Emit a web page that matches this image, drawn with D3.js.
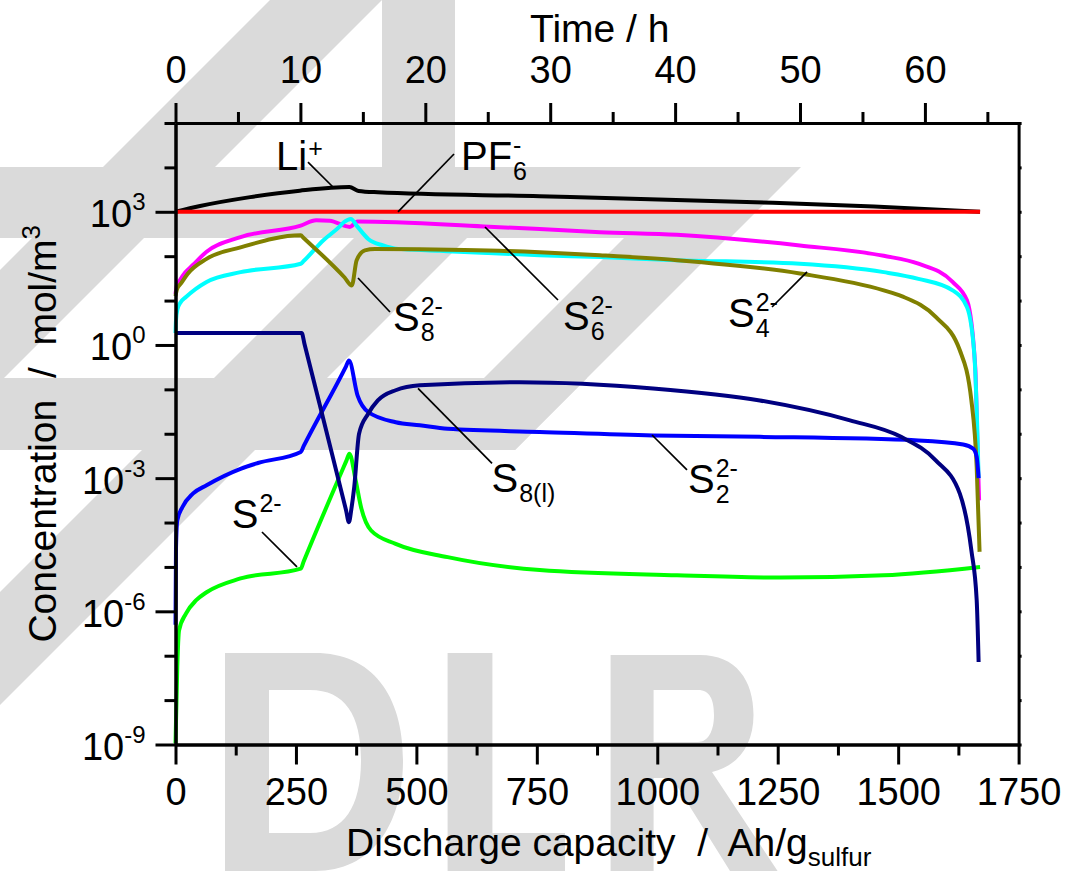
<!DOCTYPE html>
<html><head><meta charset="utf-8">
<script src="https://cdn.jsdelivr.net/npm/d3@7/dist/d3.min.js"></script>
<style>
body{margin:0;background:#fff}
svg{display:block}
text{font-family:"Liberation Sans",Arial,Helvetica,sans-serif;fill:#000;white-space:pre}
</style>
</head><body>
<svg id="chart" width="1080" height="871"></svg>
<script>
// ---------- data (discharge capacity in Ah/g_sulfur, concentration in mol/m^3) ----------
const capTicks = [0, 250, 500, 750, 1000, 1250, 1500, 1750];
const timeTicks = [0, 10, 20, 30, 40, 50, 60];
const concExponents = [-9, -6, -3, 0, 3];

const liCap  = [0, 51, 155, 258, 361, 380, 420, 756, 1185, 1450, 1670];
const liVal  = [1000, 1349, 2138, 2985, 3597, 2951, 2754, 2239, 1660, 1318, 1000];

const pfCap  = [0, 1670];
const pfVal  = [1000, 1000];

const s6Cap  = [0, 3, 7.4, 20, 36, 64.5, 135, 260, 292, 320, 362, 378, 640, 756, 881, 1041, 1296, 1470, 1542, 1613, 1643, 1660, 1665, 1668];
const s6Val  = [14.1, 22.4, 26.9, 42.7, 63.1, 126, 269, 490, 646, 631, 457, 603, 468, 407, 347, 302, 174, 102, 67.6, 26.3, 10, 0.316, 0.00363, 0.000316];

const s8Cap  = [0, 1, 4, 10, 21.7, 64.5, 135, 260, 266, 307, 340, 350, 364, 378, 400, 431, 457, 549, 756, 881, 1041, 1296, 1470, 1542, 1613, 1643, 1658, 1664, 1667];
const s8Val  = [1.86, 3.55, 6.31, 8.91, 12.0, 26.3, 43.7, 67.6, 77.6, 229, 457, 589, 692, 457, 245, 174, 148, 132, 105, 95.5, 81.3, 67.6, 43.7, 30.9, 17.0, 7.08, 0.631, 0.0158, 0.001];

const s4Cap  = [0, 3, 11, 25, 64.5, 135, 260, 266, 351, 366, 376, 393, 414, 600, 756, 881, 1041, 1296, 1470, 1507, 1578, 1628, 1652, 1663, 1669];
const s4Val  = [12.6, 17.8, 24.0, 39.8, 87.1, 158, 295, 257, 33.1, 21.9, 81.3, 135, 145, 138, 123, 105, 81.3, 40.7, 17.0, 12.6, 4.27, 0.759, 0.0562, 0.00178, 2.19e-5];

const s8lCap = [0, 262, 268, 354, 360, 365, 371, 381, 400, 420, 457, 507, 715, 991, 1213, 1400, 1506, 1578, 1628, 1652, 1663, 1667];
const s8lVal = [1.86, 1.86, 1.02, 1.9e-4, 1.02e-4, 2.0e-4, 6.3e-4, 0.01, 0.0282, 0.0562, 0.0955, 0.123, 0.145, 0.105, 0.0562, 0.02, 0.00851, 0.00251, 4.47e-4, 2.34e-5, 1.78e-6, 7.24e-8];

const s2Cap  = [0, 1, 3.7, 14.5, 36, 64.5, 135, 171, 260, 266, 354, 360, 378, 400, 457, 507, 565, 756, 991, 1213, 1542, 1635, 1656, 1663, 1667];
const s2Val  = [5.0e-7, 2.51e-5, 1.12e-4, 2.24e-4, 4.47e-4, 6.92e-4, 1.62e-3, 2.19e-3, 3.89e-3, 5.25e-3, 0.331, 0.447, 0.0724, 0.0309, 0.0182, 0.0155, 0.0129, 0.011, 0.00912, 0.00851, 0.00708, 0.00575, 0.00457, 0.00302, 0.001];

const s1Cap  = [0, 3.7, 7.4, 21.7, 43, 64.5, 135, 260, 266, 355, 361, 374, 385, 406, 457, 565, 756, 1041, 1256, 1470, 1670];
const s1Val  = [1.07e-9, 5.62e-8, 3.72e-7, 8.91e-7, 1.78e-6, 2.69e-6, 5.5e-6, 9.12e-6, 1.32e-5, 2.51e-3, 3.55e-3, 8.91e-4, 2.24e-4, 6.61e-5, 3.31e-5, 1.66e-5, 8.51e-6, 6.46e-6, 5.75e-6, 6.46e-6, 1e-5];

const seriesNames  = ["Li+", "PF6-", "S6", "S8", "S4", "S", "S2", "S8(l)"];
const seriesColors = ["#000000", "#ff0000", "#ff00ff", "#00ffff", "#808000", "#00ff00", "#0000ff", "#000080"];

// labels: [cap, conc] anchors for text baseline, leader start, leader end
const labelDefs = [
  {main:"Li", sup:"+", at:[208.6, 8730], from:[275, 13210], to:[326.9, 3614], supDy:-13},
  {main:"PF", sup:"-", sub:"6", at:[592.6, 8730], from:[578.1, 20040], to:[461.8, 1000]},
  {main:"S", sup:"2-", sub:"8", at:[451.5, 2.07], from:[378.8, 32.2], to:[445.2, 5.52]},
  {main:"S", sup:"2-", sub:"6", at:[804.3, 2.17], from:[642.4, 454], to:[793.9, 10.3]},
  {main:"S", sup:"2-", sub:"4", at:[1146.8, 2.54], from:[1238.2, 7.16], to:[1310.8, 44.1]},
  {main:"S", sub:"8(l)", at:[655.9, 5.0e-4], from:[503.4, 0.105], to:[657.0, 0.00216]},
  {main:"S", sup:"2-", sub:"2", at:[1063.8, 4.62e-4], from:[989.1, 0.00938], to:[1061.7, 0.00153]},
  {main:"S", sup:"2-", at:[116.7, 7.53e-5], from:[179.5, 6.12e-5], to:[252.2, 1e-5]}
];

// ---------- drawing ----------
const svg = d3.select("#chart");
const L = 175.5, R = 1018.6, T = 123, B = 744.5;
const x = d3.scaleLinear().domain([0, 1750]).range([L, R]);
const xt = d3.scaleLinear().domain([0, 67.5]).range([L, R]);
const y = d3.scaleLog().domain([1e-9, 1e5]).range([B, T]);

// background watermark (light grey logo + letters)
const wm = svg.append("g").attr("fill", "#dadada");
[
  "M0,167 L801,167 L730,238 L0,238 Z",
  "M0,378 L587,378 L515,450 L0,450 Z",
  "M270,0 L382,0 L0,382 L0,270 Z",
  "M425,167 L538,167 L0,705 L0,592 Z",
  "M695,167 L798,167 L515,450 L412,450 Z",
  "M382,0 L455,0 L455,167 L382,167 Z",
  "M225,653 L315,653 C372,653 403,695 403,760 C403,825 372,871 315,871 L225,871 Z M269,690 L310,690 C345,690 361,715 361,760 C361,805 345,833 310,833 L269,833 Z",
  "M447.6,653 L492.4,653 L492.4,833 L565,833 L565,871 L447.6,871 Z",
  "M610.6,655 L700,655 C736,655 753.5,680 753.5,715 C753.5,745 738,766 712,772 L777.6,871 L730,871 L672,778 L653.6,778 L653.6,871 L610.6,871 Z M653.6,690 L698,690 C710,690 714,700 714,715 C714,731 708,742 698,742 L653.6,742 Z"
].forEach(p => wm.append("path").attr("d", p).attr("fill-rule", "evenodd"));

const line = d3.line().x(d => x(d[0])).y(d => y(d[1])).curve(d3.curveMonotoneX);
const pairs = (c, v) => c.map((cc, i) => [cc, v[i]]);
const series = [
  pairs(liCap, liVal), pairs(pfCap, pfVal), pairs(s6Cap, s6Val), pairs(s8Cap, s8Val),
  pairs(s4Cap, s4Val), pairs(s1Cap, s1Val), pairs(s2Cap, s2Val), pairs(s8lCap, s8lVal)
];

const plot = svg.append("g");
series.forEach((s, i) => {
  plot.append("path").datum(s).attr("d", line)
    .attr("fill", "none").attr("stroke", seriesColors[i])
    .attr("stroke-width", 4).attr("stroke-linejoin", "round").attr("stroke-linecap", "butt");
});

// leaders and labels
const lab = svg.append("g");
labelDefs.forEach(d => {
  lab.append("line")
    .attr("x1", x(d.from[0])).attr("y1", y(d.from[1]))
    .attr("x2", x(d.to[0])).attr("y2", y(d.to[1]))
    .attr("stroke", "#000").attr("stroke-width", 1.7);
  const tx = x(d.at[0]), ty = y(d.at[1]);
  const t = lab.append("text").attr("x", tx).attr("y", ty).attr("font-size", 40).text(d.main);
  const w = t.node().getComputedTextLength();
  if (d.sup) lab.append("text").attr("x", tx + w + 1).attr("y", ty + (d.supDy || -16)).attr("font-size", 25).text(d.sup);
  if (d.sub) lab.append("text").attr("x", tx + w + 1).attr("y", ty + 10).attr("font-size", 25).text(d.sub);
});

// axes
const axW = 3;
function styleAxis(g) {
  g.select(".domain").attr("stroke", "#000").attr("stroke-width", axW);
  g.selectAll(".tick line").attr("stroke", "#000").attr("stroke-width", axW);
}
const minorCap = capTicks.slice(0, -1).map(v => v + 125);
const minorTime = timeTicks.map(v => v + 5);
const allDecades = d3.range(-9, 6).map(e => Math.pow(10, e));
const majorDecades = concExponents.map(e => Math.pow(10, e));
const minorDecades = allDecades.filter(v => !majorDecades.includes(v));

// bottom
svg.append("g").attr("transform", `translate(0,${B})`)
  .call(d3.axisBottom(x).tickValues(minorCap).tickSize(11).tickSizeOuter(0).tickFormat(""))
  .call(styleAxis);
const gb = svg.append("g").attr("transform", `translate(0,${B})`)
  .call(d3.axisBottom(x).tickValues(capTicks).tickSize(20).tickSizeOuter(0).tickFormat(d3.format("d")))
  .call(styleAxis);
gb.selectAll(".tick text").attr("font-size", 38).attr("y", 60).attr("dy", 0)
  .attr("font-family", "Liberation Sans, Arial, sans-serif").attr("fill", "#000");

// top
svg.append("g").attr("transform", `translate(0,${T})`)
  .call(d3.axisTop(xt).tickValues(minorTime).tickSize(11).tickSizeOuter(0).tickFormat(""))
  .call(styleAxis);
const gt = svg.append("g").attr("transform", `translate(0,${T})`)
  .call(d3.axisTop(xt).tickValues(timeTicks).tickSize(20).tickSizeOuter(0).tickFormat(d3.format("d")))
  .call(styleAxis);
gt.selectAll(".tick text").attr("font-size", 38).attr("y", -40).attr("dy", 0)
  .attr("font-family", "Liberation Sans, Arial, sans-serif").attr("fill", "#000");

// left
svg.append("g").attr("transform", `translate(${L},0)`)
  .call(d3.axisLeft(y).tickValues(minorDecades).tickSize(11).tickSizeOuter(0).tickFormat(""))
  .call(styleAxis);
const gl = svg.append("g").attr("transform", `translate(${L},0)`)
  .call(d3.axisLeft(y).tickValues(majorDecades).tickSize(20).tickSizeOuter(0).tickFormat(""))
  .call(styleAxis);
gl.selectAll(".tick").each(function(d, i) {
  const t = d3.select(this).append("text").attr("x", -30).attr("y", 15)
    .attr("text-anchor", "end").attr("font-size", 38).attr("fill", "#000");
  t.append("tspan").text("10");
  t.append("tspan").attr("font-size", 24).attr("dy", -17).text(String(concExponents[i]));
});

// right
svg.append("g").attr("transform", `translate(${R},0)`)
  .call(d3.axisRight(y).tickValues(allDecades).tickSize(3).tickSizeOuter(0).tickFormat(""))
  .call(styleAxis);

// titles
svg.append("text").attr("x", 530).attr("y", 42).attr("font-size", 39).text("Time / h");
const xtitle = svg.append("text").attr("x", 346).attr("y", 856).attr("font-size", 39);
xtitle.append("tspan").text("Discharge capacity  /  Ah/g");
xtitle.append("tspan").attr("font-size", 26).attr("dy", 10).text("sulfur");
const ytitle = svg.append("text").attr("transform", `translate(56,${(T + B) / 2}) rotate(-90)`)
  .attr("text-anchor", "middle").attr("font-size", 39);
ytitle.append("tspan").text("Concentration  /  mol/m");
ytitle.append("tspan").attr("font-size", 26).attr("dy", -16).text("3");
</script>
</body></html>
